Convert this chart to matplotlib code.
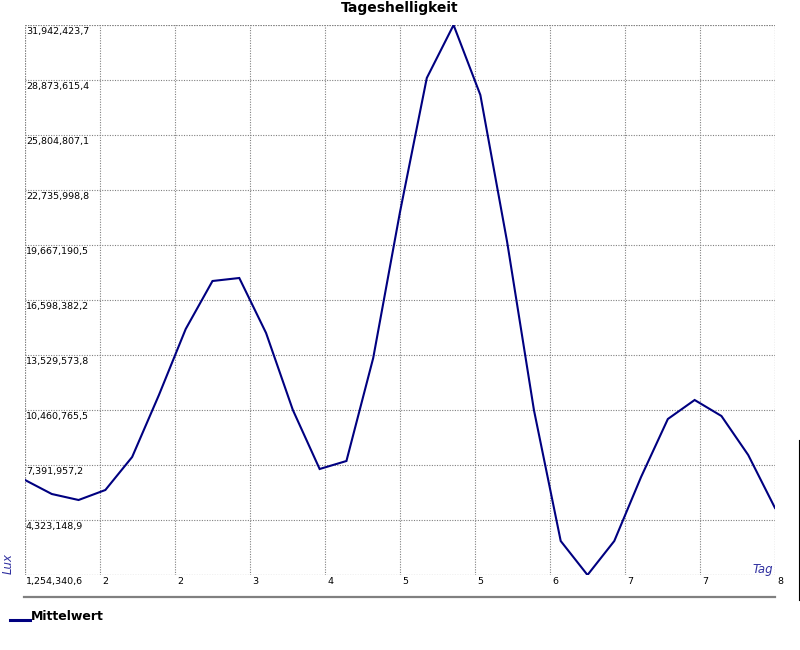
import matplotlib
matplotlib.use("Agg")
import matplotlib.pyplot as plt
from matplotlib.lines import Line2D
from matplotlib.transforms import offset_copy
import numpy as np

title = "Tageshelligkeit"
series_name = "Mittelwert"
x_label = "Tag"
y_label = "Lux"

# time in days (6-hour steps from day 1 to day 8)
days = [1.0, 1.25, 1.5, 1.75, 2.0, 2.25, 2.5, 2.75, 3.0, 3.25, 3.5, 3.75, 4.0, 4.25,
        4.5, 4.75, 5.0, 5.25, 5.5, 5.75, 6.0, 6.25, 6.5, 6.75, 7.0, 7.25, 7.5, 7.75, 8.0]
lux = [6555008, 5773857, 5439078, 5997043, 7838328, 11297711, 14980280, 17658512,
       17825901, 14757094, 10460764, 7168770, 7615142, 13362181, 21508470, 28985201,
       31942423.7, 28036661, 19834575, 10460764, 3151422, 1254340.6, 3151422, 6722398,
       9958595, 11018728, 10125984, 7949921, 4992706]

y_tick_labels = ["1,254,340,6", "4,323,148,9", "7,391,957,2", "10,460,765,5",
                 "13,529,573,8", "16,598,382,2", "19,667,190,5", "22,735,998,8",
                 "25,804,807,1", "28,873,615,4", "31,942,423,7"]
x_tick_labels = ["2", "2", "3", "4", "5", "5", "6", "7", "7", "8"]

x_min, x_max = 1.0, 8.0
y_min, y_max = 1254340.6, 31942423.7
n_div = 10

W, H = 800, 650
fig = plt.figure(figsize=(8, 6.5), dpi=100)
L, R, T, B = 25, 775, 25, 575
ax = fig.add_axes([L / W, 1 - B / H, (R - L) / W, (B - T) / H])

ax.plot(days, lux, color="#000080", linewidth=1.5, solid_joinstyle="miter", zorder=3)
ax.set_xlim(x_min, x_max)
ax.set_ylim(y_min, y_max)

xt = np.linspace(x_min, x_max, n_div + 1)
yt = np.linspace(y_min, y_max, n_div + 1)
ax.set_xticks(xt)
ax.set_yticks(yt)
ax.set_xticklabels([])
ax.set_yticklabels([])
ax.tick_params(length=0)
dots = (0, (1, 1.3))
ax.grid(True, color="#808080", linestyle=dots, linewidth=0.8)
for s in ax.spines.values():
    s.set_visible(False)
for v in (x_min, x_max):
    ax.axvline(v, color="#808080", linestyle=dots, linewidth=0.8, zorder=1)
for v in (y_min, y_max):
    ax.axhline(v, color="#808080", linestyle=dots, linewidth=0.8, zorder=1)

fs = 6.8
for v, s in zip(yt, y_tick_labels):
    tr = offset_copy(ax.transData, fig=fig, x=1, y=-2, units="dots")
    ax.text(x_min, v, s, transform=tr, ha="left", va="top", fontsize=fs,
            color="black", clip_on=False)
for v, s in zip(xt[1:], x_tick_labels):
    tr = offset_copy(ax.transData, fig=fig, x=2, y=-2, units="dots")
    ax.text(v, y_min, s, transform=tr, ha="left", va="top", fontsize=fs,
            color="black", clip_on=False)

fig.text(400 / W, 1 - 8 / H, title, ha="center", va="center", fontsize=10,
         fontweight="bold", color="black")
fig.text(8 / W, 1 - 564 / H, y_label, rotation=90, ha="center", va="center",
         fontsize=8.5, style="italic", color="#3030a0")
fig.text(773 / W, 1 - 573 / H, x_label, ha="right", va="baseline",
         fontsize=8.5, style="italic", color="#3030a0")

# separator line below the axis
fig.add_artist(Line2D([24 / W, 775 / W], [1 - 597 / H] * 2, color="#808080",
                      linewidth=1.6))
fig.add_artist(Line2D([799 / W, 799 / W], [1 - 440 / H, 1 - 600 / H], color="black",
                      linewidth=0.8))

# legend
fig.add_artist(Line2D([10 / W, 30 / W], [1 - 620 / H] * 2, color="#000080",
                      linewidth=2.2))
fig.text(31 / W, 1 - 617 / H, series_name, ha="left", va="center", fontsize=9,
         fontweight="bold", color="black")

fig.savefig("out.png", dpi=100)
